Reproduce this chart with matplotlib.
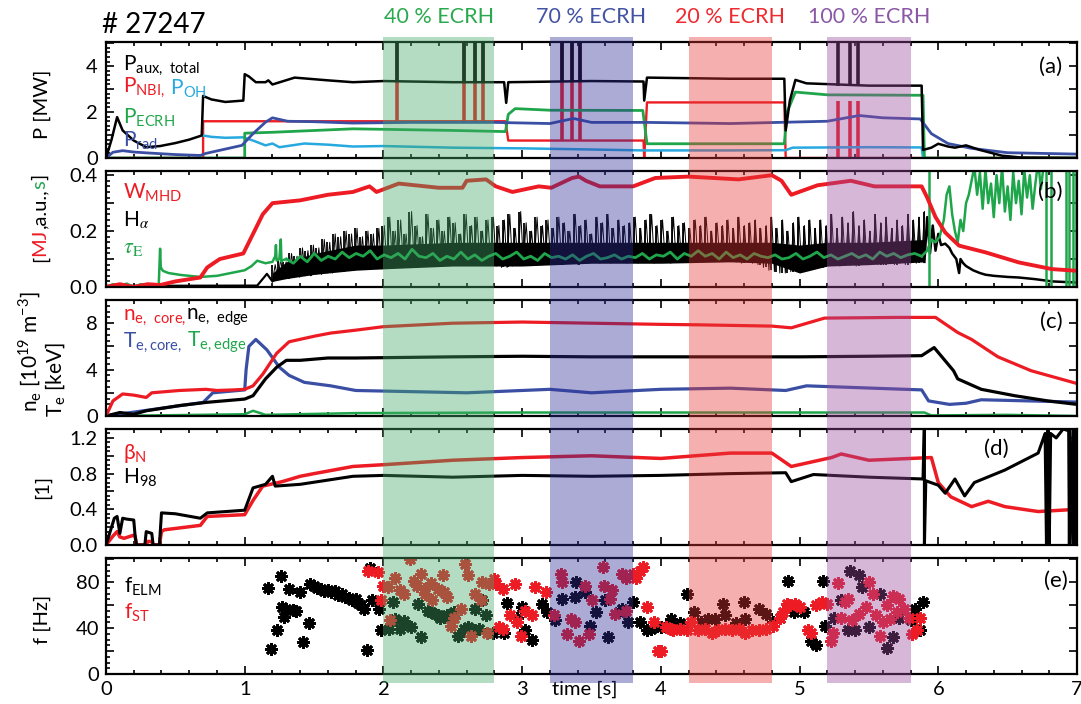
"""
Discharge #27247 overview: heating power, stored energy, profiles, confinement, ELM frequency
"""

import numpy as np
import matplotlib.pyplot as plt
import matplotlib.transforms as mtransforms
from matplotlib.patches import Rectangle
from matplotlib.ticker import MultipleLocator, FuncFormatter

plt.rcParams['font.family'] = ['Lato', 'DejaVu Sans']

RED = '#ED1C24'
GREEN = '#1FA64B'
CYAN = '#27A9DF'
BLUE = '#3A4FA3'

# ----- ECRH phases -----
BAND_START = [2.0, 3.2, 4.2, 5.2]
BAND_END = [2.8, 3.8, 4.8, 5.8]
BAND_LABELS = ['40 % ECRH', '70 % ECRH', '20 % ECRH', '100 % ECRH']
BAND_TEXT_COL = ['#2AAA4E', '#4353A3', '#EE2A30', '#8B58A6']
BAND_FILL = ['#44A869', '#2F2F98', '#E63737', '#9B4B9B']

# ----- (a) powers [MW] -----
PAUX_T = [0, 0.04, 0.08, 0.12, 0.2, 0.29, 0.39, 0.5, 0.6, 0.69,
          0.7, 0.76, 0.86, 0.99, 1.0, 1.03, 1.08, 1.15, 1.17, 1.2,
          1.36, 1.6, 1.78, 2.0, 2.5, 2.87, 2.885, 2.9, 3.5, 3.875,
          3.88, 3.9, 4.5, 4.89, 4.9, 4.93, 4.97, 5.05, 5.5, 5.88,
          5.89, 5.95, 6.0, 6.07, 6.12, 6.2, 6.3, 6.46, 6.6, 7.0]
PAUX = [0, 0.8, 1.78, 1.2, 0.76, 0.47, 0.52, 0.65, 0.8, 0.98,
        2.7, 2.55, 2.44, 2.5, 3.65, 3.55, 3.3, 3.3, 3.38, 3.2,
        3.5, 3.38, 3.3, 3.35, 3.3, 3.3, 2.4, 3.3, 3.35, 3.33,
        2.5, 3.5, 3.45, 3.45, 1.2, 2.5, 3.4, 3.25, 3.15, 3.15,
        0.35, 0.45, 0.62, 0.5, 0.45, 0.55, 0.35, 0.1, 0.02, 0.0]

NBI_T = [0, 0.7, 0.7, 2.88, 2.9, 3.875, 3.88, 3.9, 4.89, 4.9, 7.0]
NBI = [0, 0, 1.6, 1.6, 0.76, 0.76, 0.0, 2.42, 2.42, 0.0, 0.0]

ECRH_T = [0, 1.0, 1.0, 1.2, 1.78, 2.5, 2.88, 2.9, 2.95, 3.2,
          3.87, 3.9, 4.89, 4.91, 4.97, 5.2, 5.89, 5.9, 7.0]
ECRH = [0, 0, 1.08, 1.12, 1.27, 1.2, 1.15, 1.9, 2.15, 2.08,
        2.07, 0.62, 0.62, 2.0, 2.87, 2.75, 2.73, 0, 0]

OH_T = [0.7, 0.76, 0.86, 0.99, 1.06, 1.15, 1.2, 1.25, 1.43, 1.6,
        1.78, 2.0, 2.5, 3.0, 3.5, 3.88, 4.5, 4.9, 4.95, 5.5, 5.88, 5.89]
OH = [0.98, 0.92, 0.88, 0.9, 0.76, 0.55, 0.63, 0.47, 0.63, 0.58,
      0.5, 0.52, 0.45, 0.42, 0.37, 0.33, 0.33, 0.34, 0.45, 0.47, 0.46, 0.0]

PRAD_T = [0, 0.05, 0.12, 0.2, 0.3, 0.5, 0.68, 0.72, 0.98, 1.06,
          1.15, 1.2, 1.25, 1.31, 1.5, 1.78, 2.2, 2.8, 3.2, 3.37,
          3.5, 3.9, 4.5, 5.2, 5.43, 5.6, 5.87, 5.95, 6.07, 6.24, 6.5, 7.0]
PRAD = [0, 0.25, 0.32, 0.26, 0.22, 0.15, 0.11, 0.2, 0.55, 1.06,
        1.56, 1.75, 1.68, 1.6, 1.58, 1.52, 1.55, 1.55, 1.5, 1.72,
        1.55, 1.55, 1.5, 1.6, 1.85, 1.75, 1.7, 1.06, 0.63, 0.42, 0.23, 0.17]

# short NBI blips
SPIKE_T = [2.10, 2.58, 2.66, 2.72, 3.29, 3.36, 3.42, 5.28, 5.36, 5.42]
SPIKE_BLACK_BASE = [3.3, 3.3, 3.3, 3.3, 3.33, 3.33, 3.33, 3.15, 3.15, 3.15]
SPIKE_RED_BASE = [1.6, 1.6, 1.6, 1.6, 0.76, 0.76, 0.76, 0.0, 0.0, 0.0]
SPIKE_RED_TOP = [5.5, 5.5, 5.5, 5.5, 5.5, 5.5, 5.5, 2.5, 2.5, 2.5]

# ----- (b) W_MHD [MJ], H_alpha [a.u.], tau_E [s] -----
WMHD_T = [0, 0.1, 0.2, 0.3, 0.39, 0.5, 0.68, 0.73, 0.82, 0.99,
          1.06, 1.13, 1.2, 1.4, 1.6, 1.78, 1.9, 1.95, 2.11, 2.4,
          2.57, 2.6, 2.74, 2.81, 2.93, 3.12, 3.21, 3.36, 3.41, 3.46,
          3.56, 3.8, 3.96, 4.2, 4.56, 4.8, 4.87, 4.94, 5.13, 5.37,
          5.54, 5.88, 5.92, 5.98, 6.05, 6.15, 6.34, 6.58, 6.82, 7.0]
WMHD = [0, 0.01, 0.0, 0.01, 0.007, 0.02, 0.034, 0.07, 0.1, 0.12,
        0.19, 0.26, 0.3, 0.31, 0.33, 0.34, 0.36, 0.34, 0.37, 0.355,
        0.355, 0.38, 0.385, 0.36, 0.34, 0.36, 0.355, 0.39, 0.395, 0.38,
        0.36, 0.36, 0.39, 0.395, 0.385, 0.4, 0.38, 0.33, 0.364, 0.38,
        0.36, 0.36, 0.32, 0.25, 0.195, 0.148, 0.124, 0.088, 0.064, 0.058]

HA_PRE_T = [0, 1.09, 1.16, 1.2]
HA_PRE = [0.004, 0.005, 0.047, 0.02]
# dense inter-ELM band of the H_alpha trace
HA_BAND_T = [1.2, 1.3, 1.5, 1.8, 2.0, 2.5, 3.0, 3.5, 4.0, 4.5, 4.8, 5.0, 5.2, 5.5, 5.9]
HA_BAND_LO = [0.02, 0.03, 0.045, 0.06, 0.065, 0.075, 0.075, 0.085, 0.085, 0.09, 0.085, 0.05, 0.075, 0.08, 0.09]
HA_BAND_HI = [0.05, 0.09, 0.12, 0.15, 0.15, 0.16, 0.16, 0.16, 0.16, 0.16, 0.16, 0.15, 0.16, 0.16, 0.17]
# ELMy phase 1.2 - 5.9 s: trough and peak of each ELM spike
HA_TROUGH = [0.02, 0.025, 0.03, 0.03, 0.035, 0.035, 0.04, 0.04, 0.045, 0.045,
             0.05, 0.05, 0.055, 0.055, 0.06, 0.06, 0.062, 0.062, 0.065, 0.065,
             0.065, 0.068, 0.07, 0.07, 0.072, 0.072, 0.075, 0.075, 0.075, 0.078,
             0.078, 0.08, 0.08, 0.08, 0.082, 0.082, 0.085, 0.082, 0.085, 0.085,
             0.08, 0.075, 0.07, 0.07, 0.075, 0.08, 0.08, 0.085, 0.085, 0.085,
             0.085, 0.08, 0.085, 0.08, 0.085, 0.085, 0.08, 0.085, 0.085, 0.09,
             0.085, 0.09, 0.085, 0.09, 0.09, 0.085, 0.09, 0.085, 0.09, 0.09,
             0.085, 0.09, 0.09, 0.085, 0.09, 0.09, 0.09, 0.095, 0.09, 0.09,
             0.095, 0.09, 0.09, 0.095, 0.09, 0.09, 0.085, 0.09, 0.085, 0.08,
             0.07, 0.06, 0.055, 0.05, 0.05, 0.055, 0.06, 0.065, 0.07, 0.075,
             0.075, 0.07, 0.075, 0.08, 0.075, 0.08, 0.08, 0.075, 0.08, 0.08,
             0.085, 0.08, 0.08, 0.085, 0.08, 0.085, 0.08, 0.085, 0.085, 0.09]
HA_PEAK = [0.08, 0.10, 0.09, 0.12, 0.11, 0.14, 0.13, 0.15, 0.14, 0.17,
           0.16, 0.19, 0.18, 0.20, 0.19, 0.21, 0.18, 0.20, 0.19, 0.21,
           0.22, 0.25, 0.20, 0.24, 0.19, 0.27, 0.22, 0.18, 0.26, 0.21,
           0.24, 0.20, 0.25, 0.23, 0.19, 0.26, 0.22, 0.25, 0.20, 0.24,
           0.25, 0.22, 0.24, 0.26, 0.21, 0.27, 0.23, 0.20, 0.25, 0.22,
           0.24, 0.21, 0.25, 0.23, 0.20, 0.26, 0.22, 0.24, 0.19, 0.25,
           0.23, 0.26, 0.21, 0.24, 0.22, 0.23, 0.25, 0.21, 0.24, 0.26,
           0.22, 0.24, 0.20, 0.25, 0.22, 0.23, 0.21, 0.24, 0.22, 0.25,
           0.20, 0.23, 0.22, 0.24, 0.21, 0.25, 0.22, 0.23, 0.24, 0.21,
           0.22, 0.25, 0.21, 0.24, 0.20, 0.23, 0.25, 0.22, 0.24, 0.21,
           0.24, 0.22, 0.26, 0.21, 0.25, 0.23, 0.27, 0.22, 0.24, 0.20,
           0.26, 0.23, 0.25, 0.21, 0.24, 0.22, 0.26, 0.24, 0.25, 0.27]
HA_POST_T = [5.9, 5.92, 5.94, 5.96, 5.98, 6.0, 6.02, 6.05, 6.08, 6.1,
             6.13, 6.15, 6.16, 6.18, 6.2, 6.25, 6.3, 6.34, 6.4, 6.5,
             6.58, 6.7, 6.82, 7.0]
HA_POST = [0.09, 0.25, 0.12, 0.22, 0.13, 0.19, 0.15, 0.155, 0.14, 0.12,
           0.1, 0.05, 0.1, 0.085, 0.075, 0.06, 0.05, 0.044, 0.04, 0.036,
           0.034, 0.028, 0.02, 0.016]

TAU_PRE_T = [0, 0.05, 0.1, 0.15, 0.2, 0.25, 0.3, 0.38, 0.39, 0.395,
             0.41, 0.45, 0.54, 0.68, 0.8, 0.9, 1.0, 1.05, 1.09, 1.15,
             1.2, 1.22, 1.225, 1.23, 1.25, 1.26, 1.265, 1.27, 1.3]
TAU_PRE = [0, 0.01, 0.005, 0.012, 0.0, 0.01, 0.008, 0.005, 0.137, 0.07,
           0.058, 0.05, 0.043, 0.036, 0.04, 0.05, 0.06, 0.075, 0.094, 0.085,
           0.09, 0.11, 0.15, 0.095, 0.1, 0.17, 0.09, 0.095, 0.10]
# 1.3 - 5.88 s, equally spaced samples
TAU_MID = [0.10, 0.085, 0.11, 0.09, 0.12, 0.095, 0.11, 0.10, 0.125, 0.105,
           0.12, 0.11, 0.13, 0.10, 0.115, 0.105, 0.12, 0.10, 0.135, 0.11,
           0.105, 0.12, 0.095, 0.11, 0.10, 0.125, 0.10, 0.115, 0.095, 0.11,
           0.12, 0.10, 0.11, 0.125, 0.10, 0.11, 0.095, 0.12, 0.105, 0.11,
           0.10, 0.115, 0.095, 0.11, 0.12, 0.10, 0.105, 0.115, 0.10, 0.11,
           0.105, 0.12, 0.10, 0.115, 0.11, 0.125, 0.10, 0.12, 0.11, 0.13,
           0.11, 0.12, 0.10, 0.125, 0.105, 0.115, 0.10, 0.12, 0.11, 0.105,
           0.115, 0.10, 0.105, 0.12, 0.10, 0.11, 0.125, 0.105, 0.115, 0.10,
           0.11, 0.12, 0.105, 0.115, 0.10, 0.125, 0.11, 0.12, 0.105, 0.115,
           0.12, 0.11]
TAU_POST_T = [5.88, 5.92, 5.95, 5.98, 6.01, 6.04, 6.06, 6.08, 6.1, 6.12,
              6.14, 6.16, 6.18, 6.2, 6.22, 6.24, 6.26, 6.28, 6.3, 6.32,
              6.34, 6.36, 6.38, 6.4, 6.42, 6.44, 6.46, 6.48, 6.5, 6.52,
              6.54, 6.56, 6.58, 6.6, 6.62, 6.64, 6.66, 6.68, 6.7, 6.72,
              6.74, 6.76, 6.78, 7.0]
TAU_POST = [0.11, 0.13, 0.17, 0.16, 0.18, 0.24, 0.33, 0.36, 0.26, 0.2,
            0.16, 0.24, 0.2, 0.3, 0.33, 0.38, 0.43, 0.33, 0.41, 0.28,
            0.42, 0.3, 0.37, 0.25, 0.4, 0.3, 0.43, 0.27, 0.36, 0.24,
            0.41, 0.3, 0.38, 0.26, 0.42, 0.32, 0.4, 0.28, 0.37, 0.45,
            0.35, 0.44, 0.5, 0.5]
TAU_DROP_T = [5.93, 6.78, 6.81, 6.92, 6.94, 6.97, 6.99]

# ----- (c) density [1e19 m^-3] and temperature [keV] -----
NE_CORE_T = [0, 0.05, 0.12, 0.2, 0.29, 0.33, 0.53, 0.72, 0.8, 0.92,
             1.0, 1.06, 1.13, 1.23, 1.32, 1.51, 1.62, 1.8, 2.0, 2.5,
             3.0, 3.5, 4.0, 4.27, 4.8, 4.94, 5.18, 5.71, 5.98, 6.14,
             6.24, 6.43, 6.67, 7.0]
NE_CORE = [0, 1.3, 1.9, 1.8, 1.6, 2.0, 2.2, 2.3, 2.2, 2.25,
           2.3, 2.6, 3.6, 5.4, 6.4, 6.9, 7.15, 7.4, 7.7, 8.0,
           8.1, 8.0, 7.9, 7.86, 7.75, 7.6, 8.44, 8.5, 8.5, 7.2,
           6.6, 5.1, 3.9, 2.8]
NE_EDGE_T = [0, 0.1, 0.2, 0.29, 0.53, 0.72, 1.0, 1.06, 1.15, 1.23,
             1.3, 1.4, 1.6, 1.8, 2.5, 3.0, 3.5, 4.0, 4.5, 5.0,
             5.5, 5.88, 5.97, 6.11, 6.14, 6.31, 6.55, 6.79, 7.0]
NE_EDGE = [0, 0.3, 0.15, 0.45, 0.9, 1.17, 1.46, 1.75, 3.2, 4.2,
           4.8, 4.8, 5.0, 5.0, 5.1, 5.15, 5.1, 5.1, 5.1, 5.1,
           5.15, 5.2, 5.9, 3.9, 3.2, 2.3, 1.75, 1.3, 1.0]
TE_CORE_T = [0, 0.7, 0.77, 1.0, 1.01, 1.03, 1.08, 1.16, 1.25, 1.32,
             1.43, 1.62, 1.8, 2.2, 2.6, 3.0, 3.2, 3.5, 4.0, 4.5,
             4.9, 5.05, 5.29, 5.88, 5.93, 6.08, 6.2, 6.31, 7.0]
TE_CORE = [0, 1.17, 2.0, 2.25, 4.0, 6.0, 6.6, 5.7, 4.2, 3.5,
           2.9, 2.6, 2.2, 2.1, 2.0, 2.2, 2.3, 2.0, 2.3, 2.4,
           2.2, 2.6, 2.5, 2.25, 1.3, 1.0, 1.1, 1.4, 1.2]
TE_EDGE_T = [0, 1.0, 1.06, 1.15, 1.8, 3.0, 5.9, 5.95, 6.5, 7.0]
TE_EDGE = [0, 0.15, 0.45, 0.1, 0.25, 0.3, 0.3, 0.05, 0.1, 0.0]

# ----- (d) beta_N and H98 -----
BETA_T = [0, 0.05, 0.08, 0.1, 0.13, 0.2, 0.21, 0.22, 0.29, 0.3,
          0.33, 0.34, 0.385, 0.4, 0.42, 0.68, 0.73, 1.0, 1.06, 1.13,
          1.27, 1.4, 1.5, 1.78, 2.0, 2.5, 3.0, 3.5, 4.0, 4.5,
          4.8, 4.94, 5.23, 5.3, 5.5, 5.95, 6.0, 6.09, 6.24, 6.36,
          6.48, 6.72, 7.0]
BETA = [0, 0.1, 0.15, 0.09, 0.075, 0.11, 0.1, 0.0, 0.0, 0.04,
        0.04, 0.0, 0.0, 0.15, 0.17, 0.22, 0.32, 0.34, 0.5, 0.66,
        0.71, 0.77, 0.8, 0.88, 0.9, 0.95, 0.98, 1.0, 0.97, 1.03,
        1.03, 0.88, 0.98, 1.02, 0.95, 0.98, 0.7, 0.54, 0.43, 0.49,
        0.43, 0.375, 0.4]
H98_T = [0, 0.06, 0.08, 0.1, 0.12, 0.15, 0.2, 0.21, 0.22, 0.28,
         0.29, 0.33, 0.34, 0.385, 0.4, 0.5, 0.68, 0.73, 1.0, 1.06,
         1.15, 1.2, 1.22, 1.4, 1.78, 2.0, 2.5, 3.0, 3.5, 4.0,
         4.5, 4.9, 4.94, 5.1, 5.5, 5.89, 5.9, 5.9, 5.91, 6.0,
         6.05, 6.12, 6.19, 6.26, 6.48, 6.72, 6.77, 6.78, 6.79, 6.8,
         6.81, 6.85, 6.9, 6.94, 6.945, 6.95, 6.97, 6.975, 6.99, 6.995,
         7.0]
H98 = [0, 0.3, 0.32, 0.13, 0.3, 0.29, 0.28, 0.1, 0.0, 0.0,
       0.15, 0.13, 0.0, 0.0, 0.36, 0.35, 0.3, 0.36, 0.39, 0.64,
       0.68, 0.77, 0.66, 0.68, 0.77, 0.78, 0.76, 0.78, 0.77, 0.78,
       0.8, 0.81, 0.71, 0.79, 0.76, 0.74, 1.4, 0.0, 0.72, 0.67,
       0.58, 0.74, 0.55, 0.7, 0.84, 1.03, 1.25, 0.0, 1.3, 0.0,
       1.25, 1.2, 1.3, 1.28, 0.0, 1.3, 0.0, 1.3, 0.0, 1.3,
       1.3]

# ----- (e) ELM and sawtooth frequency [Hz] -----
ELM_T = [1.17, 1.19, 1.23, 1.26, 1.27, 1.28, 1.30, 1.32, 1.35, 1.37,
         1.40, 1.42, 1.46, 1.47, 1.50, 1.52, 1.55, 1.57, 1.60, 1.62,
         1.65, 1.67, 1.70, 1.72, 1.75, 1.77, 1.80, 1.82, 1.84, 1.86,
         1.88, 1.90, 1.92, 1.97, 1.98, 2.04, 2.07, 2.08, 2.12, 2.15,
         2.20, 2.25, 2.27, 2.32, 2.34, 2.37, 2.39, 2.41, 2.44, 2.46,
         2.49, 2.51, 2.54, 2.58, 2.61, 2.65, 2.66, 2.69, 2.71, 2.74,
         2.79, 2.87, 2.89, 2.96, 3.00, 3.02, 3.07, 3.14, 3.18, 3.24,
         3.29, 3.38, 3.39, 3.45, 3.49, 3.53, 3.60, 3.62, 3.70, 3.72,
         3.76, 3.80, 3.85, 3.90, 3.93, 3.97, 4.00, 4.07, 4.14, 4.19,
         4.24, 4.29, 4.34, 4.39, 4.45, 4.46, 4.54, 4.60, 4.61, 4.71,
         4.76, 4.81, 4.86, 4.92, 4.96, 5.03, 5.08, 5.12, 5.17, 5.18,
         5.25, 5.30, 5.35, 5.36, 5.40, 5.43, 5.45, 5.50, 5.58, 5.63,
         5.67, 5.72, 5.80, 5.83, 5.87, 5.89]
ELM_F = [75, 22, 38, 85, 58, 50, 57, 74, 56, 55,
         71, 28, 44, 78, 77, 75, 74, 72, 73, 71,
         72, 69, 70, 67, 66, 64, 65, 62, 60, 57,
         21, 92, 64, 57, 38, 39, 63, 48, 39, 46,
         41, 61, 32, 55, 54, 52, 51, 49, 50, 51,
         52, 54, 33, 39, 41, 38, 57, 39, 64, 51,
         36, 36, 62, 49, 58, 38, 30, 61, 54, 47,
         65, 67, 80, 71, 42, 54, 64, 32, 54, 57,
         45, 63, 45, 38, 39, 42, 41, 48, 44, 70,
         54, 45, 48, 48, 61, 51, 44, 63, 48, 57,
         52, 45, 49, 81, 54, 54, 29, 25, 81, 42,
         49, 64, 38, 90, 38, 86, 76, 41, 70, 23,
         32, 49, 47, 57, 38, 63]
ST_T = [1.89, 1.96, 1.98, 2.00, 2.03, 2.05, 2.08, 2.12, 2.15, 2.19,
        2.22, 2.24, 2.27, 2.29, 2.30, 2.34, 2.35, 2.39, 2.43, 2.44,
        2.46, 2.49, 2.51, 2.56, 2.59, 2.61, 2.63, 2.66, 2.70, 2.71,
        2.75, 2.76, 2.80, 2.81, 2.83, 2.86, 2.86, 2.91, 2.95, 2.96,
        2.99, 3.02, 3.07, 3.09, 3.17, 3.23, 3.28, 3.29, 3.32, 3.35,
        3.38, 3.41, 3.45, 3.48, 3.50, 3.58, 3.59, 3.63, 3.65, 3.67,
        3.72, 3.75, 3.75, 3.80, 3.82, 3.85, 3.87, 3.90, 3.95, 3.98,
        4.00, 4.04, 4.07, 4.09, 4.14, 4.19, 4.22, 4.27, 4.32, 4.37,
        4.41, 4.46, 4.51, 4.56, 4.61, 4.66, 4.71, 4.76, 4.81, 4.86,
        4.88, 4.91, 4.93, 4.97, 5.00, 5.06, 5.08, 5.12, 5.16, 5.20,
        5.23, 5.24, 5.28, 5.30, 5.33, 5.35, 5.38, 5.43, 5.48, 5.50,
        5.53, 5.55, 5.58, 5.60, 5.63, 5.65, 5.67, 5.70, 5.72, 5.75,
        5.79, 5.81, 5.85, 5.87]
ST_F = [90, 89, 64, 77, 76, 47, 84, 73, 70, 100,
        81, 77, 87, 74, 70, 79, 64, 74, 86, 71,
        67, 42, 49, 57, 96, 86, 33, 70, 64, 80,
        36, 78, 83, 78, 41, 39, 74, 51, 78, 45,
        33, 55, 51, 76, 71, 51, 87, 80, 35, 48,
        45, 29, 77, 35, 64, 93, 77, 65, 73, 52,
        87, 84, 55, 87, 84, 90, 93, 58, 45, 20,
        20, 41, 39, 38, 39, 38, 45, 38, 39, 36,
        38, 39, 38, 39, 36, 38, 38, 39, 42, 49,
        54, 61, 60, 61, 58, 38, 36, 60, 63, 61,
        29, 36, 79, 49, 63, 65, 47, 52, 58, 80,
        70, 51, 33, 45, 60, 48, 68, 54, 65, 57,
        49, 35, 38, 49]


def every_other(step, fmt):
    # label only ticks that are multiples of `step`
    def f(v, pos):
        k = v / step
        return fmt.format(v) if abs(k - round(k)) < 1e-6 else ''
    return FuncFormatter(f)


def color_row(ax, x, y, pieces, size=15):
    # horizontal text made of differently coloured pieces
    prev = ax.text(x, y, pieces[0][0], color=pieces[0][1], fontsize=size,
                   transform=ax.transAxes, va='bottom')
    for s, c in pieces[1:]:
        prev = ax.annotate(s, xy=(1, 0), xycoords=prev, color=c,
                           fontsize=size, va='bottom', ha='left')


def color_vlabel(ax, x, y, pieces, size=14.5):
    # rotated y-label made of differently coloured pieces, built bottom-up
    prev = ax.text(x, y, pieces[0][0], color=pieces[0][1], fontsize=size,
                   rotation=90, transform=ax.figure.transFigure,
                   ha='center', va='bottom')
    for s, c in pieces[1:]:
        prev = ax.annotate(s, xy=(0.5, 1), xycoords=prev, color=c, fontsize=size,
                           rotation=90, ha='center', va='bottom')


LEG = 15

fig = plt.figure(figsize=(10.81, 7.04), dpi=100)
FW, FH = 1081, 704
left, width = 106 / FW, 971 / FW
tops = [42, 171, 300, 429, 558]
ph = 116
axes = [fig.add_axes([left, 1 - (t + ph) / FH, width, ph / FH]) for t in tops]

for ax in axes:
    ax.set_xlim(0, 7)
    ax.xaxis.set_major_locator(MultipleLocator(1))
    ax.xaxis.set_minor_locator(MultipleLocator(0.2))
    ax.tick_params(which='both', direction='in', top=True, right=True,
                   labelsize=14.5, width=1.2, labelbottom=False)
    ax.tick_params(which='major', length=6)
    ax.tick_params(which='minor', length=3)
    ax.tick_params(axis='y', which='minor', right=False)
    ax.tick_params(axis='y', pad=6)
    for s in ax.spines.values():
        s.set_linewidth(1.6)
axes[-1].tick_params(labelbottom=True, pad=5)

# ----- (a) -----
ax = axes[0]
ax.vlines(SPIKE_T, SPIKE_RED_BASE, SPIKE_RED_TOP, color=RED, lw=2.6)
ax.plot(NBI_T, NBI, color=RED, lw=1.7)
ax.plot(OH_T, OH, color=CYAN, lw=1.8)
ax.plot(ECRH_T, ECRH, color=GREEN, lw=2.0)
ax.plot(PRAD_T, PRAD, color=BLUE, lw=2.0)
ax.plot(PAUX_T, PAUX, color='black', lw=1.8)
ax.vlines(SPIKE_T, SPIKE_BLACK_BASE, 5.5, color='black', lw=2.6)
ax.set_ylim(0, 5.05)
ax.yaxis.set_major_locator(MultipleLocator(1))
ax.yaxis.set_minor_locator(MultipleLocator(0.2))
ax.yaxis.set_major_formatter(every_other(2, '{:.0f}'))
ax.text(0.0175, 0.76, r'P$_\mathregular{aux,\ total}$', transform=ax.transAxes, fontsize=LEG)
color_row(ax, 0.0175, 0.5, [(r'P$_\mathregular{NBI,}$', RED), (r' P$_\mathregular{OH}$', CYAN)])
ax.text(0.0175, 0.30, r'P$_\mathregular{ECRH}$', color=GREEN, transform=ax.transAxes, fontsize=LEG)
ax.text(0.0175, 0.10, r'P$_\mathregular{rad}$', color=BLUE, transform=ax.transAxes, fontsize=LEG)

# ----- (b) -----
ax = axes[1]
spike_t = np.linspace(1.2, 5.9, len(HA_PEAK))
ax.plot(HA_PRE_T, HA_PRE, color='black', lw=1.6)
ax.fill_between(HA_BAND_T, HA_BAND_LO, HA_BAND_HI, color='black', lw=0)
ax.vlines(spike_t, HA_TROUGH, HA_PEAK, color='black', lw=1.3)
ax.plot(np.linspace(1.2, 5.9, 2 * len(HA_PEAK)),
        np.ravel(np.column_stack([HA_TROUGH, HA_PEAK])), color='black', lw=0.7)
ax.plot(HA_POST_T, HA_POST, color='black', lw=1.8)
ax.plot(TAU_PRE_T, TAU_PRE, color=GREEN, lw=1.8)
ax.plot(np.linspace(1.3, 5.88, len(TAU_MID)), TAU_MID, color=GREEN, lw=2.0)
ax.plot(TAU_POST_T, TAU_POST, color=GREEN, lw=1.8)
ax.vlines(TAU_DROP_T, 0, 0.45, color=GREEN, lw=1.8)
ax.plot(WMHD_T, WMHD, color=RED, lw=2.8)
ax.set_ylim(0, 0.415)
ax.yaxis.set_major_locator(MultipleLocator(0.1))
ax.yaxis.set_minor_locator(MultipleLocator(0.02))
ax.yaxis.set_major_formatter(every_other(0.2, '{:.1f}'))
ax.text(0.0175, 0.76, r'W$_\mathregular{MHD}$', color=RED, transform=ax.transAxes, fontsize=LEG)
ax.text(0.0175, 0.52, r'H$_\alpha$', math_fontfamily='stix', transform=ax.transAxes, fontsize=LEG)
ax.text(0.0175, 0.29, r'$\tau_\mathrm{E}$', math_fontfamily='stix', color=GREEN,
        transform=ax.transAxes, fontsize=16)

# ----- (c) -----
ax = axes[2]
ax.plot(TE_EDGE_T, TE_EDGE, color=GREEN, lw=1.8)
ax.plot(TE_CORE_T, TE_CORE, color=BLUE, lw=2.3)
ax.plot(NE_EDGE_T, NE_EDGE, color='black', lw=2.3)
ax.plot(NE_CORE_T, NE_CORE, color=RED, lw=2.3)
ax.set_ylim(0, 10)
ax.yaxis.set_major_locator(MultipleLocator(2))
ax.yaxis.set_minor_locator(MultipleLocator(0.5))
ax.yaxis.set_major_formatter(every_other(4, '{:.0f}'))
color_row(ax, 0.0175, 0.76, [(r'n$_\mathregular{e,\ core,}$', RED), (r'n$_\mathregular{e,\ edge}$', 'black')])
color_row(ax, 0.0175, 0.53, [(r'T$_\mathregular{e,core,}$', BLUE), (r' T$_\mathregular{e,edge}$', GREEN)])

# ----- (d) -----
ax = axes[3]
ax.plot(BETA_T, BETA, color=RED, lw=2.5)
ax.plot(H98_T, H98, color='black', lw=2.2)
ax.set_ylim(0, 1.3)
ax.yaxis.set_major_locator(MultipleLocator(0.2))
ax.yaxis.set_minor_locator(MultipleLocator(0.05))
ax.yaxis.set_major_formatter(every_other(0.4, '{:.1f}'))
ax.text(0.0175, 0.74, r'β$_\mathregular{N}$', color=RED, transform=ax.transAxes, fontsize=LEG)
ax.text(0.0175, 0.53, r'H$_\mathregular{98}$', transform=ax.transAxes, fontsize=LEG)

# ----- (e) -----
ax = axes[4]
ast = (8, 2, 0)
ax.plot(ELM_T, ELM_F, ls='none', marker=ast, ms=9, mew=2.0, color='black')
ax.plot(ST_T, ST_F, ls='none', marker=ast, ms=9, mew=2.0, color=RED)
ax.set_ylim(0, 101)
ax.yaxis.set_major_locator(MultipleLocator(20))
ax.yaxis.set_minor_locator(MultipleLocator(5))
ax.yaxis.set_major_formatter(every_other(40, '{:.0f}'))
ax.xaxis.set_major_formatter(FuncFormatter(lambda v, p: f'{v:.0f}'))
ax.text(0.0185, 0.70, r'f$_\mathregular{ELM}$', transform=ax.transAxes, fontsize=LEG)
ax.text(0.0185, 0.48, r'f$_\mathregular{ST}$', color=RED, transform=ax.transAxes, fontsize=LEG)
ax.text(3.45, -0.055, 'time [s]', fontsize=14.5, ha='center', va='top',
        transform=mtransforms.blended_transform_factory(ax.transData, ax.transAxes))

# panel tags
for ax, tag, x, y in zip(axes, ['(a)', '(b)', '(c)', '(d)', '(e)'],
                         [0.985, 0.985, 0.985, 0.93, 0.99], [0.79, 0.82, 0.81, 0.83, 0.805]):
    ax.text(x, y, tag, transform=ax.transAxes, fontsize=16, ha='right', va='center')

# y labels
fig.text(42 / FW, 1 - 104 / FH, 'P [MW]', rotation=90, ha='center', va='center', fontsize=14.5)
color_vlabel(axes[1], 40 / FW, 1 - 262 / FH,
             [('[', 'black'), ('MJ', RED), (',a.u.,', 'black'), ('s', GREEN), (']', 'black')])
fig.text(30 / FW, 1 - 352 / FH, r'n$_\mathregular{e}$ [10$^\mathregular{19}$ m$^\mathregular{-3}$]',
         rotation=90, ha='center', va='center', fontsize=15)
fig.text(56 / FW, 1 - 380 / FH, r'T$_\mathregular{e}$ [keV]',
         rotation=90, ha='center', va='center', fontsize=15)
fig.text(42 / FW, 1 - 487 / FH, '[1]', rotation=90, ha='center', va='center', fontsize=14.5)
fig.text(42 / FW, 1 - 619 / FH, 'f [Hz]', rotation=90, ha='center', va='center', fontsize=14.5)

fig.text(102 / FW, 1 - 33 / FH, '# 27247', fontsize=20, va='baseline')

# ECRH phase bands across all panels, drawn over the data
band_tr = mtransforms.blended_transform_factory(axes[-1].transData, fig.transFigure)
for x0, x1, lab, tc, fc in zip(BAND_START, BAND_END, BAND_LABELS, BAND_TEXT_COL, BAND_FILL):
    fig.add_artist(Rectangle((x0, 1 - 683 / FH), x1 - x0, 646 / FH, transform=band_tr,
                             facecolor=fc, edgecolor='none', alpha=0.4, zorder=5))
    fig.text((x0 + x1) / 2, 1 - 17 / FH, lab, color=tc, fontsize=15.5,
             ha='center', va='center', transform=band_tr)

fig.savefig('out.png', dpi=100)
